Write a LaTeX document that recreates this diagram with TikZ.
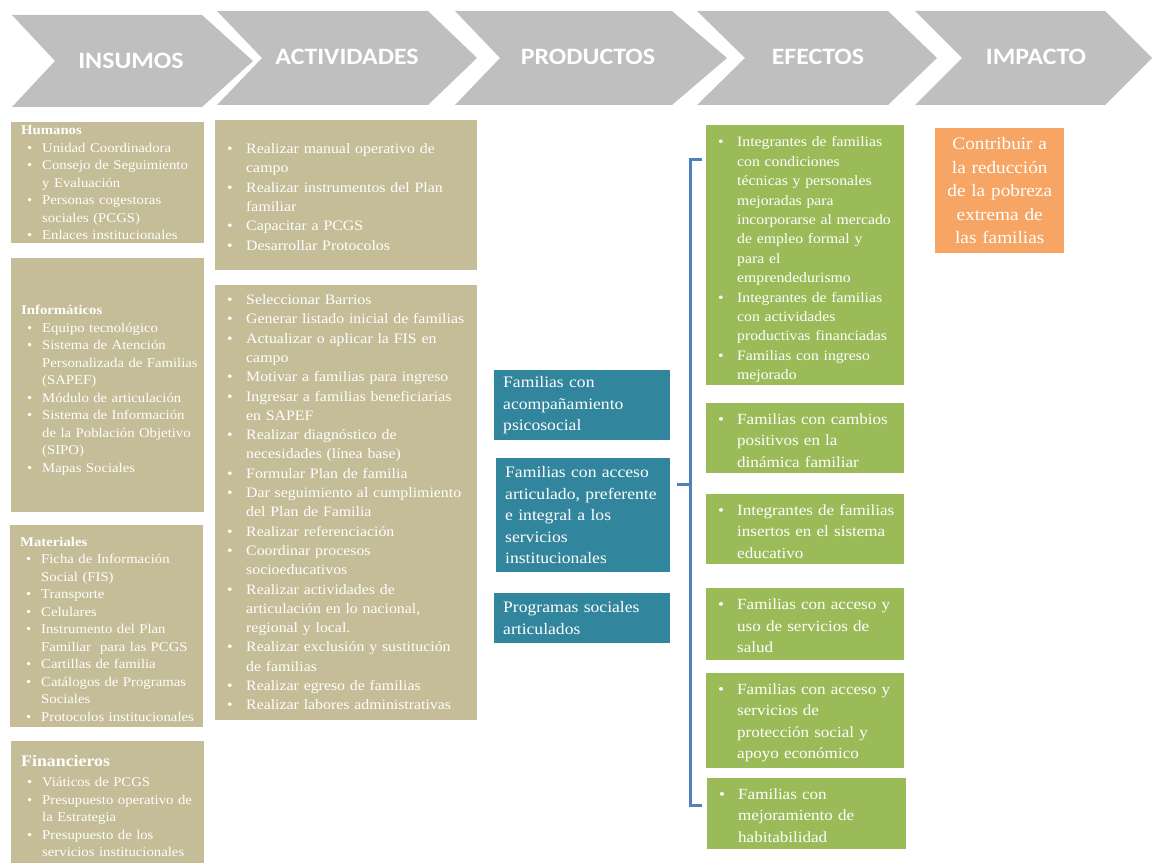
\documentclass[tikz,border=0pt]{standalone}
\usepackage{fontspec}
\setmainfont{Liberation Serif}[FakeStretch=1.1]
\newfontfamily\headfont{Carlito}[FakeStretch=1.1]
\usepackage{tikz}
\usetikzlibrary{positioning}
\definecolor{chevgray}{RGB}{191,191,191}
\definecolor{boxtan}{RGB}{196,189,151}
\definecolor{prodteal}{RGB}{49,133,156}
\definecolor{effgreen}{RGB}{155,187,89}
\definecolor{imporange}{RGB}{247,165,100}
\definecolor{brackblue}{RGB}{79,129,189}
\newlength\itmind
\newlength\itmpre
\setlength\itmind{26pt}
\setlength\itmpre{7pt}
\newcommand{\itm}[1]{\par\hangindent=\itmind\hangafter=1\noindent\makebox[\itmind][l]{\hspace{\itmpre}\textbullet}#1\par}
\tikzstyle{chev}=[fill=chevgray]
\tikzstyle{head}=[text=white, font=\headfont\bfseries\fontsize{23.5}{27}\selectfont]
\tikzstyle{box}=[anchor=north west, inner xsep=5pt, inner ysep=0pt, text=white, align=left]
\tikzstyle{ins}=[box, fill=boxtan, text width=183pt, font=\fontsize{13.4}{17.5}\selectfont\setlength\itmpre{11pt}]
\tikzstyle{act}=[box, fill=boxtan, text width=252pt, font=\fontsize{14.4}{19.3}\selectfont]
\tikzstyle{prod}=[box, inner xsep=9pt, fill=prodteal, font=\fontsize{16}{21.5}\selectfont]
\tikzstyle{eff}=[box, fill=effgreen, text width=188pt, font=\fontsize{15.5}{21.3}\selectfont]
\tikzstyle{imp}=[box, fill=imporange, text width=119pt, align=center, font=\fontsize{17.5}{23.5}\selectfont]

\begin{document}
\begin{tikzpicture}[x=1pt, y=-1pt]
\useasboundingbox (0,0) rectangle (1158,864);
% the chevrons on top
\fill[chev] (12,15) -- (202,15) -- (253,61) -- (202,107) -- (12,107) -- (55,61) -- cycle;
\fill[chev] (217,11) -- (428,11) -- (477,58) -- (428,105) -- (217,105) -- (262,58) -- cycle;
\fill[chev] (455,11) -- (672,11) -- (727,58) -- (672,105) -- (455,105) -- (500,58) -- cycle;
\fill[chev] (697,11) -- (888,11) -- (937,58) -- (888,105) -- (697,105) -- (745,58) -- cycle;
\fill[chev] (915,11) -- (1105,11) -- (1152,58) -- (1105,105) -- (915,105) -- (962,58) -- cycle;
\node[head] (hIns) at (131,61) {INSUMOS};
\node[head] (hAct) at (347,57) {ACTIVIDADES};
\node[head] (hProd) at (588,57) {PRODUCTOS};
\node[head] (hEff) at (818,57) {EFECTOS};
\node[head] (hImp) at (1036,57) {IMPACTO};
% the insumos
\node[ins, minimum height=121pt] (Hum) at (11,122) {\hspace*{5pt}\textbf{Humanos}
\itm{Unidad Coordinadora}
\itm{Consejo de Seguimiento\newline y Evaluación}
\itm{Personas cogestoras\newline sociales (PCGS)}
\itm{Enlaces institucionales}};
\node[ins, minimum height=254pt] (Inf) at (11,258) {\rule{0pt}{19.5pt}\hspace*{5pt}\textbf{Informáticos}
\itm{Equipo tecnológico}
\itm{Sistema de Atención\newline Personalizada de Familias\newline (SAPEF)}
\itm{Módulo de articulación}
\itm{Sistema de Información\newline de la Población Objetivo\newline (SIPO)}
\itm{Mapas Sociales}};
\node[ins, minimum height=202pt] (Mat) at (10,525) {\rule{0pt}{15.5pt}\hspace*{5pt}\textbf{Materiales}
\itm{Ficha de Información\newline Social (FIS)}
\itm{Transporte}
\itm{Celulares}
\itm{Instrumento del Plan\newline Familiar~ para las PCGS}
\itm{Cartillas de familia}
\itm{Catálogos de Programas\newline Sociales}
\itm{Protocolos institucionales}};
\node[ins, minimum height=122pt] (Fin) at (11,741) {{\fontsize{16.2}{20}\selectfont\rule{0pt}{19pt}\hspace*{5pt}\textbf{Financieros}\par}\vspace{2.5pt}
\itm{Viáticos de PCGS}
\itm{Presupuesto operativo de\newline la Estrategia}
\itm{Presupuesto de los\newline servicios institucionales}};
% the actividades
\node[act, minimum height=150pt] (Act1) at (215,120) {\itm{Realizar manual operativo de\newline campo}
\itm{Realizar instrumentos del Plan\newline familiar}
\itm{Capacitar a PCGS}
\itm{Desarrollar Protocolos}\vspace{6pt}};
\node[act, minimum height=432pt] (Act2) at (215,285) {\itm{Seleccionar Barrios}
\itm{Generar listado inicial de familias}
\itm{Actualizar o aplicar la FIS en\newline campo}
\itm{Motivar a familias para ingreso}
\itm{Ingresar a familias beneficiarias\newline en SAPEF}
\itm{Realizar diagnóstico de\newline necesidades (línea base)}
\itm{Formular Plan de familia}
\itm{Dar seguimiento al cumplimiento\newline del Plan de Familia}
\itm{Realizar referenciación}
\itm{Coordinar procesos\newline socioeducativos}
\itm{Realizar actividades de\newline articulación en lo nacional,\newline regional y local.}
\itm{Realizar exclusión y sustitución\newline de familias}
\itm{Realizar egreso de familias}
\itm{Realizar labores administrativas}\vspace{10pt}};
% the productos
\node[prod, text width=158pt, minimum height=70pt] (Prod1) at (494,370) {Familias con\\ acompañamiento\\ psicosocial};
\node[prod, text width=156pt, minimum height=114pt] (Prod2) at (496,458) {Familias con acceso\\ articulado, preferente\\ e integral a los\\ servicios\\ institucionales};
\node[prod, text width=158pt, minimum height=50pt] (Prod3) at (494,593) {Programas sociales\\ articulados};
% the efectos
\node[eff, minimum height=260pt, font=\fontsize{14.3}{19.4}\selectfont] (Eff1) at (706,125) {\itm{Integrantes de familias\newline con condiciones\newline técnicas y personales\newline mejoradas para\newline incorporarse al mercado\newline de empleo formal y\newline para el\newline emprendedurismo}
\itm{Integrantes de familias\newline con actividades\newline productivas financiadas}
\itm{Familias con ingreso\newline mejorado}};
\node[eff, minimum height=70pt] (Eff2) at (706,403) {\itm{Familias con cambios\newline positivos en la\newline dinámica familiar}\vspace{6pt}};
\node[eff, minimum height=69pt] (Eff3) at (706,494) {\itm{Integrantes de familias\newline insertos en el sistema\newline educativo}\vspace{6pt}};
\node[eff, minimum height=72pt] (Eff4) at (706,588) {\itm{Familias con acceso y\newline uso de servicios de\newline salud}\vspace{7pt}};
\node[eff, minimum height=92pt] (Eff5) at (706,673) {\itm{Familias con acceso y\newline servicios de\newline protección social y\newline apoyo económico}\vspace{6pt}};
\node[eff, text width=189pt, minimum height=70pt] (Eff6) at (707,778) {\itm{Familias con\newline mejoramiento de\newline habitabilidad}\vspace{7pt}};
% the impacto
\node[imp, minimum height=125pt] (Imp) at (935,128) {Contribuir a\\ la reducción\\ de la pobreza\\ extrema de\\ las familias};
% the bracket
\coordinate (bTop) at (702,159);
\coordinate (bBot) at (702,805);
\coordinate (bMid) at (677,484);
\draw[brackblue, line width=3pt] (bTop) -- (690,159) -- (690,805) -- (bBot);
\draw[brackblue, line width=3pt] (690,484) -- (bMid);
\end{tikzpicture}
\end{document}
